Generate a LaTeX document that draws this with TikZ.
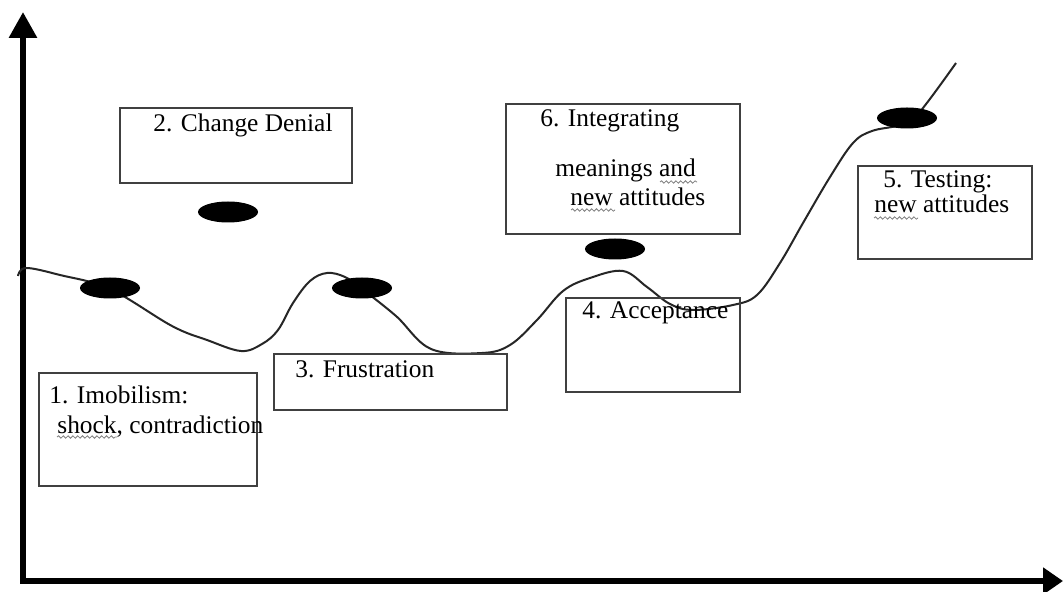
\documentclass[tikz,border=0pt]{standalone}
\usepackage{fontspec}
\setmainfont{Liberation Serif}
\usetikzlibrary{arrows.meta,shapes.geometric,decorations.pathmorphing}

\begin{document}
\begin{tikzpicture}[x=0.5pt, y=-0.5pt,
    box/.style={draw=black!75, line width=1.2pt},
    stage/.style={anchor=base west, inner sep=0pt, font=\fontsize{12.7}{15}\selectfont},
    blob/.style={ellipse, fill=black, inner sep=0pt, minimum width=30pt, minimum height=10.5pt},
    squiggle/.style={draw=gray, line width=0.4pt, decorate,
        decoration={snake, amplitude=0.6pt, segment length=2.4pt}}]

    % page
    \fill[white] (0,0) rectangle (1063,592);
    \useasboundingbox (0,0) rectangle (1063,592);

    % axes
    \coordinate (Ytop) at (23,12);
    \coordinate (O) at (23,581);
    \coordinate (Xend) at (1063,581);
    \draw[line width=3pt, line join=miter,
        {Triangle[length=13pt,width=13.5pt]}-{Triangle[length=10pt,width=13pt]}]
        (Ytop) -- (O) -- (Xend);

    % the curve of change
    \draw[line width=1pt, black!85] plot[smooth, tension=0.6] coordinates {
        (18,276) (26,268) (60,275) (110,289) (172,326) (207,340) (241,351)
        (262,344) (278,330) (293,303) (310,281) (327,273) (345,277) (362,289)
        (396,316) (431,349) (482,353) (510,345) (537,320) (563,291) (590,278)
        (623,271) (647,287) (670,304) (693,310) (733,305) (757,295) (780,263)
        (803,223) (830,177) (853,143) (872,131) (900,125) (918,114) (956,63)};

    % stage markers
    \node[blob] (e1) at (110,288) {};
    \node[blob] (e2) at (228,212) {};
    \node[blob] (e3) at (362,288) {};
    \node[blob] (e6) at (615,249) {};
    \node[blob] (e5) at (907,118) {};

    % stage boxes
    \draw[box] (39,373) rectangle (257,486);
    \draw[box] (120,108) rectangle (352,183);
    \draw[box] (274,354) rectangle (507,410);
    \draw[box] (566,298) rectangle (740,392);
    \draw[box] (858,166) rectangle (1032,259);
    \draw[box] (506,104) rectangle (740,234);

    % box texts
    \node[stage] (s1a) at (49,403) {1. Imobilism:};
    \node[stage] (s1b) at (57,433) {shock, contradiction};
    \node[stage] (s2) at (153,132) {2. Change Denial};
    \node[stage] (s3) at (295,378) {3. Frustration};
    \node[stage] (s4) at (582,319) {4. Acceptance};
    \node[stage] (s5a) at (883,188) {5. Testing:};
    \node[stage] (s5b) at (874,213) {new attitudes};
    \node[stage] (s6a) at (540,127) {6. Integrating};
    \node[stage] (s6b) at (555,177) {meanings and};
    \node[stage] (s6c) at (570,206) {new attitudes};

    % spelling marks
    \draw[squiggle] (57,437) -- (117,437);
    \draw[squiggle] (660,182) -- (697,182);
    \draw[squiggle] (571,210) -- (615,210);
    \draw[squiggle] (874,218) -- (918,218);
\end{tikzpicture}
\end{document}
